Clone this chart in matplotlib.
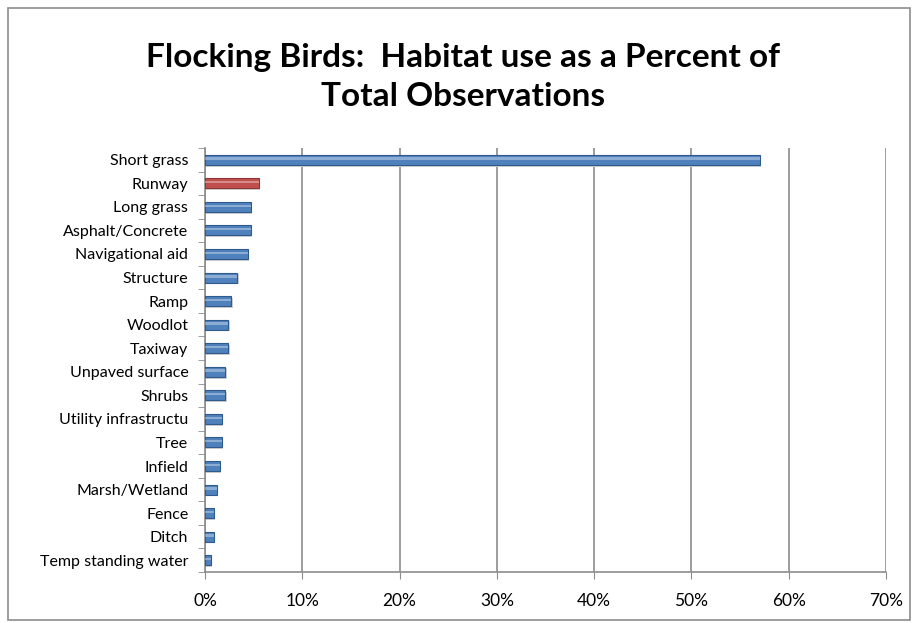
import matplotlib.pyplot as plt
from matplotlib.patches import Rectangle
from matplotlib.ticker import FuncFormatter, FixedLocator

# datos (porcentaje del total de observaciones)
habitats = ["Short grass", "Runway", "Long grass", "Asphalt/Concrete",
            "Navigational aid", "Structure", "Ramp", "Woodlot", "Taxiway",
            "Unpaved surface", "Shrubs", "Utility infrastructu", "Tree",
            "Infield", "Marsh/Wetland", "Fence", "Ditch", "Temp standing water"]
percent = [57.0, 5.5, 4.7, 4.7, 4.4, 3.3, 2.7, 2.4, 2.4,
           2.1, 2.1, 1.7, 1.7, 1.5, 1.2, 0.9, 0.9, 0.6]
highlight = "Runway"

plt.rcParams['font.family'] = ['Lato', 'DejaVu Sans']

fig = plt.figure(figsize=(9.2, 6.23), dpi=100)
ax = fig.add_axes([205/920, 1 - 572/623, (886-205)/920, (572-148)/623])

# marco exterior gris del gráfico
fig.patches.append(Rectangle((8/920, 3/623), 902/920, 612/623, transform=fig.transFigure,
                             fill=False, edgecolor="#8c8c8c", linewidth=1.2))

n = len(habitats)
ypos = list(range(n - 1, -1, -1))
colores = ["#C0504D" if h == highlight else "#4F81BD" for h in habitats]
bordes = ["#8C3836" if h == highlight else "#2F5A8C" for h in habitats]

# sombra, barra y brillo para imitar el estilo 3D de Excel
ax.barh([y - 0.07 for y in ypos], percent, height=0.44, left=0.15, color="#cfcfcf",
        zorder=2, linewidth=0)
ax.barh(ypos, percent, height=0.42, color=colores, edgecolor=bordes,
        linewidth=0.8, zorder=3)
ax.barh([y + 0.05 for y in ypos], percent, height=0.1, color="white", alpha=0.35,
        linewidth=0, zorder=4)

ax.set_xlim(0, 70)
ax.set_ylim(-0.5, n - 0.5)
ax.set_yticks(ypos)
ax.set_yticklabels(habitats, fontsize=11.5)
ax.yaxis.set_minor_locator(FixedLocator([i - 0.5 for i in range(n + 1)]))
ax.tick_params(axis="y", which="major", length=0, pad=12)
ax.tick_params(axis="y", which="minor", length=5, color="#8c8c8c", direction="out")
ax.set_xticks(range(0, 71, 10))
ax.xaxis.set_major_formatter(FuncFormatter(lambda v, p: f"{v:.0f}%"))
ax.tick_params(axis="x", length=5, color="#8c8c8c", labelsize=12.5, pad=10)

ax.grid(axis="x", color="#8c8c8c", linewidth=1.2, zorder=0)
ax.set_axisbelow(True)
for lado in ["top", "right"]:
    ax.spines[lado].set_visible(False)
for lado in ["left", "bottom"]:
    ax.spines[lado].set_color("#8c8c8c")
    ax.spines[lado].set_linewidth(1.2)

fig.text(463/920, 1 - 77/623, "Flocking Birds:  Habitat use as a Percent of\nTotal Observations",
         ha="center", va="center", fontsize=24, fontweight="bold", linespacing=1.45)

fig.savefig("out.png", dpi=100)
